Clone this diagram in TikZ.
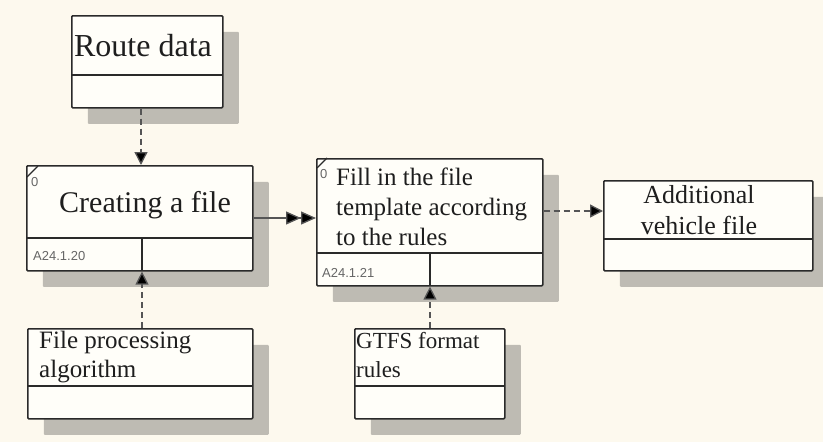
\documentclass[tikz,border=0pt]{standalone}
\usepackage{fontspec}
\setmainfont{Liberation Serif}
\newfontfamily\labfont{Liberation Sans}
\usetikzlibrary{shadows,arrows.meta}
\definecolor{bgcol}{HTML}{FDF9EE}
\definecolor{boxfill}{HTML}{FFFEF9}
\definecolor{shadowcol}{HTML}{BEBBB3}
\definecolor{linecol}{HTML}{2A2A2A}
\definecolor{conncol}{HTML}{555555}
\definecolor{txtcol}{HTML}{1E1E1E}
\definecolor{labcol}{HTML}{666666}
\begin{document}
\begin{tikzpicture}[x=1pt,y=-1pt,
  box/.style={rectangle, draw=linecol, line width=1.6pt, fill=boxfill, rounded corners=1pt,
    inner sep=0pt, anchor=north west,
    general shadow={shadow xshift=16pt, shadow yshift=-16pt, fill=shadowcol, draw=none}},
  divline/.style={draw=linecol, line width=1.6pt},
  dasharrow/.style={draw=conncol, line width=1.3pt, dash pattern=on 6pt off 4pt,
    -{Triangle[length=13pt,width=13pt,fill=black]}},
  solidarrow/.style={draw=conncol, line width=1.3pt,
    -{Triangle[length=15pt,width=13pt,fill=black]Triangle[length=15pt,width=13pt,fill=black]}},
  txt/.style={text=txtcol, inner sep=0pt},
  lab/.style={text=labcol, inner sep=0pt, font=\labfont\fontsize{13}{15}\selectfont},
]
\fill[bgcol] (0,0) rectangle (823,442);
\useasboundingbox (0,0) rectangle (823,442);

% boxes
\node[box, minimum width=151pt, minimum height=92pt] (route) at (71,15) {};
\node[box, minimum width=226pt, minimum height=105pt] (create) at (26,165) {};
\node[box, minimum width=226pt, minimum height=127pt] (fill) at (316,158) {};
\node[box, minimum width=209pt, minimum height=90pt] (addv) at (603,180) {};
\node[box, minimum width=225pt, minimum height=90pt] (fproc) at (27,328) {};
\node[box, minimum width=150pt, minimum height=90pt] (gtfs) at (354,328) {};

% dividers
\draw[divline] (route.north west) ++(0,60) -- ++(151,0);
\draw[divline] (create.north west) ++(0,73) -- ++(226,0);
\draw[divline] (create.north west) ++(116,73) -- ++(0,32);
\draw[divline] (fill.north west) ++(0,95) -- ++(226,0);
\draw[divline] (fill.north west) ++(114,95) -- ++(0,32);
\draw[divline] (addv.north west) ++(0,59) -- ++(209,0);
\draw[divline] (fproc.north west) ++(0,58) -- ++(225,0);
\draw[divline] (gtfs.north west) ++(0,58) -- ++(150,0);

% corner marks
\draw[linecol, line width=1.3pt] (create.north west) ++(1,12) -- ++(11,-11);
\node[lab, anchor=base west] (z1) at (31,186) {0};
\draw[linecol, line width=1.3pt] (fill.north west) ++(1,10) -- ++(10,-10);
\node[lab, anchor=base west] (z2) at (320,178) {0};

% texts
\node[txt, anchor=base, font=\fontsize{32}{36}\selectfont] (t1) at (143,56) {Route data};
\node[txt, anchor=base, font=\fontsize{30}{34}\selectfont] (t2) at (145,212) {Creating a file};
\node[lab, anchor=base west] (l1) at (33,260) {A24.1.20};
\node[lab, anchor=base west] (l2) at (322,277) {A24.1.21};
\node[txt, anchor=base west, font=\fontsize{25}{30}\selectfont] (t3a) at (336,185) {Fill in the file};
\node[txt, anchor=base west, font=\fontsize{25}{30}\selectfont] (t3b) at (336,215) {template according};
\node[txt, anchor=base west, font=\fontsize{25}{30}\selectfont] (t3c) at (336,245) {to the rules};
\node[txt, anchor=base, font=\fontsize{26}{30}\selectfont] (t4a) at (699,203) {Additional};
\node[txt, anchor=base, font=\fontsize{26}{30}\selectfont] (t4b) at (699,234) {vehicle file};
\node[txt, anchor=base west, font=\fontsize{25}{30}\selectfont] (t5a) at (39,348) {File processing};
\node[txt, anchor=base west, font=\fontsize{25}{30}\selectfont] (t5b) at (39,377) {algorithm};
\node[txt, anchor=base west, font=\fontsize{23}{30}\selectfont] (t6a) at (356,348) {GTFS format};
\node[txt, anchor=base west, font=\fontsize{23}{30}\selectfont] (t6b) at (356,377) {rules};

% connectors
\coordinate (xa) at (141,0);
\coordinate (xb) at (142,0);
\coordinate (xc) at (430,0);
\coordinate (ya) at (0,218);
\coordinate (yb) at (0,211);
\draw[dasharrow] (route.south -| xa) -- (create.north -| xa);
\draw[dasharrow] (fproc.north -| xb) -- (create.south -| xb);
\draw[dasharrow] (gtfs.north -| xc) -- (fill.south -| xc);
\draw[solidarrow] (create.east |- ya) -- (fill.west |- ya);
\draw[dasharrow] (fill.east |- yb) -- (addv.west |- yb);
\end{tikzpicture}
\end{document}
